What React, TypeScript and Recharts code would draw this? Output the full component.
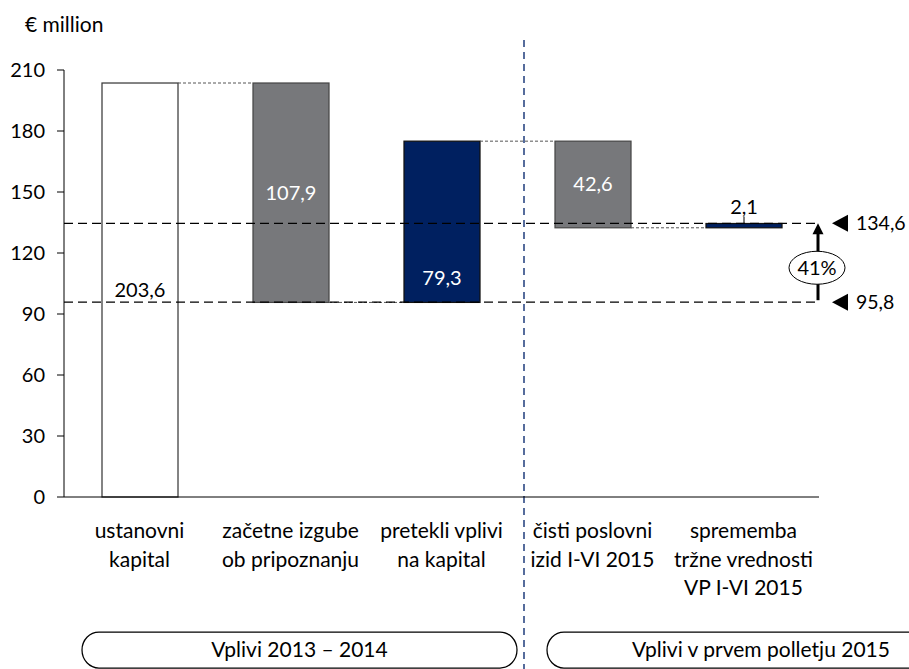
import { Bar, ComposedChart, ReferenceArea, ReferenceLine, XAxis, YAxis } from "recharts";

// category labels (line by line) and the change each bar stands for, € million
const categories = [
  ["ustanovni", "kapital"],
  ["začetne izgube", "ob pripoznanju"],
  ["pretekli vplivi", "na kapital"],
  ["čisti poslovni", "izid I-VI 2015"],
  ["sprememba", "tržne vrednosti", "VP I-VI 2015"],
];
const changes = [203.6, -107.9, 79.3, -42.6, 2.1];

// the two marked capital levels on the right
const startLevel = 95.8;
const endLevel = 134.6;

const yTicks = [0, 30, 60, 90, 120, 150, 180, 210];
const groups = ["Vplivi 2013 – 2014", "Vplivi v prvem polletju 2015"];

const WIDTH = 909;
const HEIGHT = 669;
const MARGIN = { top: 70, right: 90, bottom: 0, left: 0 };
const Y_AXIS_W = 64;
const X_AXIS_H = 172;
const PLOT_LEFT = MARGIN.left + Y_AXIS_W;
const BAND = (WIDTH - MARGIN.right - PLOT_LEFT) / categories.length;

const GREY = "#77787b";
const NAVY = "#002060";
const FONT = "Lato, 'Liberation Sans', sans-serif";
const TEXT_SIZE = 21;

let running = 0;
const data = categories.map((lines, i) => {
  const from = running;
  running = Math.round((running + changes[i]) * 10) / 10;
  return {
    name: lines.join(" "),
    lines,
    change: changes[i],
    range: [Math.min(from, running), Math.max(from, running)],
  };
});

const fmt = (v: number) => Math.abs(v).toFixed(1).replace(".", ",");

function WaterfallBar(props: any) {
  const { x, y, width, height, payload, index } = props;
  const change: number = payload.change;
  const up = change >= 0;
  const first = index === 0;
  const last = index === data.length - 1;
  const fill = first ? "#ffffff" : up ? NAVY : GREY;
  const stroke = first ? "#3a3a3a" : up ? "#111111" : "#474747";
  const levelY = up ? y : y + height;
  const gap = BAND - width;

  let label = null;
  if (last) {
    label = (
      <g>
        <line x1={x + width / 2} x2={x + width / 2} y1={y - 7} y2={y} stroke="#000" strokeWidth={1} />
        <text x={x + width / 2} y={y - 10} textAnchor="middle" fontSize={20} fill="#000">
          {fmt(change)}
        </text>
      </g>
    );
  } else {
    const cy = index === 2 ? y + height - 24 : y + height / 2;
    label = (
      <text x={x + width / 2} y={cy} dy="0.35em" textAnchor="middle" fontSize={20} fill={first ? "#000" : "#fff"}>
        {fmt(change)}
      </text>
    );
  }

  return (
    <g>
      <rect x={x} y={y} width={width} height={height} fill={fill} stroke={stroke} strokeWidth={1.25} />
      {!last && (
        <line x1={x + width} x2={x + width + gap} y1={levelY} y2={levelY} stroke="#555" strokeWidth={1} strokeDasharray="3 2" />
      )}
      {label}
    </g>
  );
}

function CategoryTick(props: any) {
  const { x, y, index } = props;
  const lines = categories[index] || [];
  return (
    <text x={x} y={y} textAnchor="middle" fontSize={TEXT_SIZE} fill="#000">
      {lines.map((line, i) => (
        <tspan key={line} x={x} dy={i === 0 ? 41 : 28.5}>
          {line}
        </tspan>
      ))}
    </text>
  );
}

function GrowthMarker(props: any) {
  const { x, y, width, height } = props;
  const ax = x + width - 1;
  const top = y;
  const bottom = y + height;
  const cy = top + height / 2 + 5;
  const pct = Math.round(((endLevel - startLevel) / startLevel) * 100);
  const marks = [
    { py: top, v: endLevel },
    { py: bottom, v: startLevel },
  ];
  return (
    <g>
      <line x1={ax} x2={ax} y1={top + 10} y2={bottom - 2} stroke="#000" strokeWidth={3} />
      <polygon points={`${ax},${top} ${ax - 5.5},${top + 11} ${ax + 5.5},${top + 11}`} fill="#000" />
      <ellipse cx={ax - 1} cy={cy} rx={28} ry={16.5} fill="#fff" stroke="#000" strokeWidth={1} />
      <text x={ax - 1} y={cy} dy="0.35em" textAnchor="middle" fontSize={20} fill="#000">
        {pct}%
      </text>
      {marks.map((m) => (
        <g key={m.v}>
          <polygon
            points={`${x + width + 13},${m.py} ${x + width + 29},${m.py - 8.5} ${x + width + 29},${m.py + 8.5}`}
            fill="#000"
          />
          <text x={x + width + 37} y={m.py} dy="0.35em" fontSize={19.5} fill="#000">
            {fmt(m.v)}
          </text>
        </g>
      ))}
    </g>
  );
}

function Divider(props: any) {
  const { x1, y1, y2 } = props;
  const lx = x1 + 7;
  const top = Math.min(y1, y2);
  return <line x1={lx} x2={lx} y1={top - 30} y2={HEIGHT} stroke="#1f3c7c" strokeWidth={1.5} strokeDasharray="7 5" />;
}

export default function App() {
  const split = PLOT_LEFT + 3 * BAND;
  const boxes = [
    { x1: PLOT_LEFT + 18, x2: split, text: groups[0] },
    { x1: split + 30, x2: WIDTH + 66, text: groups[1] },
  ];
  return (
    <div style={{ position: "absolute", left: 0, top: 0, width: WIDTH, height: HEIGHT, fontFamily: FONT, background: "#fff" }}>
      <ComposedChart width={WIDTH} height={HEIGHT} data={data} margin={MARGIN}>
        <XAxis
          dataKey="name"
          height={X_AXIS_H}
          interval={0}
          tickLine={false}
          tickSize={0}
          tickMargin={0}
          axisLine={{ stroke: "#000", strokeWidth: 1 }}
          tick={<CategoryTick />}
        />
        <YAxis
          type="number"
          domain={[0, 210]}
          ticks={yTicks}
          width={Y_AXIS_W}
          tickSize={7}
          tickMargin={12}
          axisLine={{ stroke: "#000", strokeWidth: 1 }}
          tickLine={{ stroke: "#000", strokeWidth: 1 }}
          tick={{ fill: "#000", fontSize: 20 }}
        />
        <Bar dataKey="range" barSize={76} shape={WaterfallBar} isAnimationActive={false} />
        <ReferenceLine y={endLevel} stroke="#000" strokeWidth={1.25} strokeDasharray="9 5" />
        <ReferenceLine y={startLevel} stroke="#000" strokeWidth={1.25} strokeDasharray="9 5" />
        <ReferenceLine x={data[3].name} position="start" shape={Divider} />
        <ReferenceArea y1={startLevel} y2={endLevel} shape={GrowthMarker} />
      </ComposedChart>
      <svg width={WIDTH} height={HEIGHT} style={{ position: "absolute", left: 0, top: 0, pointerEvents: "none" }}>
        <text x={25} y={32} fontSize={TEXT_SIZE} fill="#000">
          € million
        </text>
        {boxes.map((b) => (
          <g key={b.text}>
            <rect x={b.x1} y={632} width={b.x2 - b.x1} height={36} rx={17} ry={18} fill="none" stroke="#000" strokeWidth={1.25} />
            <text x={(b.x1 + b.x2) / 2} y={650} dy="0.35em" textAnchor="middle" fontSize={TEXT_SIZE} fill="#000">
              {b.text}
            </text>
          </g>
        ))}
      </svg>
    </div>
  );
}
